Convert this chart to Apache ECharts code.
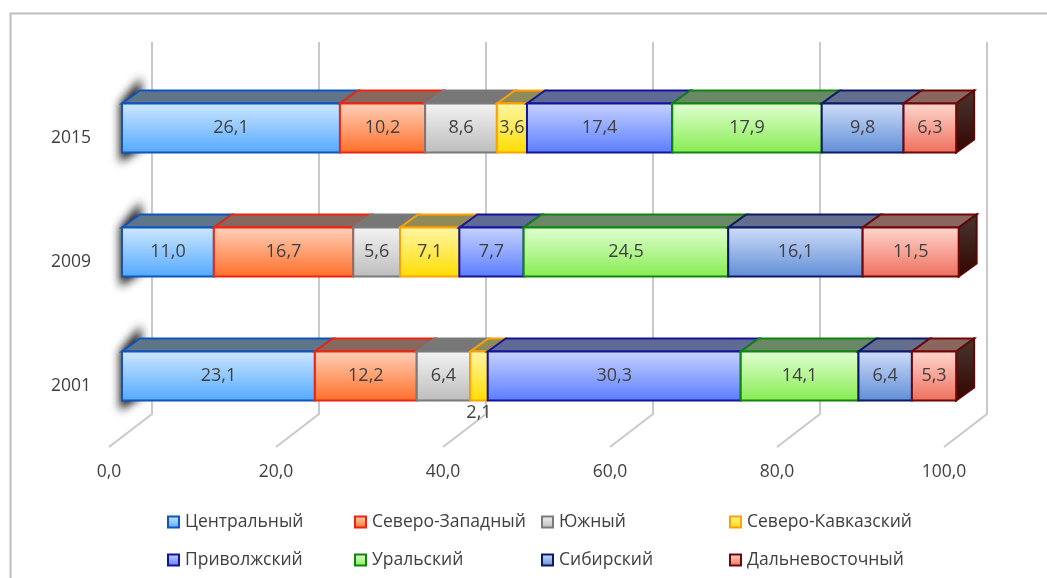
<!DOCTYPE html>
<html><head><meta charset="utf-8">
<script src="https://cdn.jsdelivr.net/npm/echarts@6/dist/echarts.min.js"></script>
<style>html,body{margin:0;padding:0;background:#fff}#c{width:1047px;height:578px}</style>
</head><body><div id="c"></div>
<script>
const years = ['2015', '2009', '2001'];
const ticks = [0, 20, 40, 60, 80, 100];
const regions = ['Центральный', 'Северо-Западный', 'Южный', 'Северо-Кавказский', 'Приволжский', 'Уральский', 'Сибирский', 'Дальневосточный'];
const central = [26.1, 11.0, 23.1];
const northWest = [10.2, 16.7, 12.2];
const south = [8.6, 5.6, 6.4];
const northCaucasus = [3.6, 7.1, 2.1];
const volga = [17.4, 7.7, 30.3];
const ural = [17.9, 24.5, 14.1];
const siberia = [9.8, 16.1, 6.4];
const farEast = [6.3, 11.5, 5.3];
const values = [central, northWest, south, northCaucasus, volga, ural, siberia, farEast];

const palette = [
  {a:'#cfe8ff', b:'#52a8ff', line:'#0f55bb', top:'#5f7589'},
  {a:'#ffd2bb', b:'#ff6e28', line:'#ee2410', top:'#86685f'},
  {a:'#f4f4f4', b:'#bcbcbc', line:'#7a7a7a', top:'#777777'},
  {a:'#fff6a8', b:'#ffdd00', line:'#ffa200', top:'#8f8a58'},
  {a:'#c8d3ff', b:'#5a7cff', line:'#14149a', top:'#5f6b95'},
  {a:'#e2ffd4', b:'#86ec50', line:'#0f850f', top:'#6a8768'},
  {a:'#d0def9', b:'#5f8dd6', line:'#0e1868', top:'#646f8d'},
  {a:'#ffd8cf', b:'#ee6e5c', line:'#6e0808', top:'#8a665f'}
];
const legendLeft = [167, 354, 541, 729];
const legendTop = [513, 551];
const txt = '#404040';
const font = '"Open Sans", "Noto Sans", sans-serif';
const DX = 18, DY = -13, H = 24.5;
const fmt = v => v.toFixed(1).replace('.', ',');
const grad = p => new echarts.graphic.LinearGradient(0, 0, 0, 1, [{offset:0,color:p.a},{offset:1,color:p.b}]);

function poly(points, fill, stroke) {
  return {type:'polygon', shape:{points}, style:{fill, stroke, lineWidth:2, lineJoin:'miter'}};
}

function segment(si) {
  return function (params, api) {
    const start = api.value(0), cat = api.value(1), v = api.value(2);
    const c0 = api.coord([start, cat]), c1 = api.coord([start + v, cat]);
    const x0 = c0[0], x1 = c1[0], yt = c0[1] - H, yb = c0[1] + H;
    const p = palette[si];
    const kids = [];
    if (si === 0) {
      const off = 3000;
      kids.push({type:'polygon',
        shape:{points:[[x0-2-off,yt],[x0+19-off,yt-26],[x0+19-off,yb-4],[x0-2-off,yb+10]]},
        style:{fill:'#000', shadowBlur:10, shadowColor:'rgba(0,0,0,0.95)', shadowOffsetX:off}});
    }
    kids.push(poly([[x0,yt],[x0+DX,yt+DY],[x1+DX,yt+DY],[x1,yt]], p.top, p.line));
    if (si === values.length - 1) {
      kids.push(poly([[x1,yt],[x1+DX,yt+DY],[x1+DX,yb+DY],[x1,yb]],
        new echarts.graphic.LinearGradient(0,0,0,1,[{offset:0,color:'#4a3630'},{offset:1,color:'#330500'}]), '#5a0808'));
    }
    kids.push({type:'rect', shape:{x:x0, y:yt, width:x1-x0, height:yb-yt}, style:{fill:grad(p), stroke:p.line, lineWidth:2}});
    const below = v < 3;
    kids.push({type:'text', z2:10, style:{
      text:fmt(v), x:(x0+x1)/2, y: below ? yb+12 : c0[1], align:'center', verticalAlign:'middle',
      fill:txt, font:'18px ' + font
    }});
    return {type:'group', children:kids};
  };
}

const cum = years.map(() => 0);
const barSeries = regions.map((name, si) => {
  const data = years.map((y, i) => { const d = [cum[i], i, values[si][i]]; cum[i] += values[si][i]; return d; });
  return {
    name, type:'custom', xAxisIndex:0, yAxisIndex:0, clip:false, data, z:5 + si,
    encode:{x:0, y:1},
    itemStyle:{color:palette[si].b},
    renderItem:segment(si)
  };
});

const wallSeries = {
  name:'grid', type:'custom', xAxisIndex:1, yAxisIndex:1, clip:false, z:1, silent:true,
  data:ticks.map(t => [t]), encode:{x:0},
  renderItem:function (params, api) {
    const f = api.coord([api.value(0), 0]), top = api.coord([api.value(0), 1]);
    const xb = f[0] + 43, yFloor = f[1] - 33;
    return {type:'polyline', shape:{points:[[xb, top[1]],[xb, yFloor],[f[0], f[1]]]},
      style:{fill:null, stroke:'#c9c9c9', lineWidth:2}};
  }
};

const legends = regions.map((name, i) => ({
  show:true, selectedMode:false, orient:'horizontal',
  left:legendLeft[i % 4], top:legendTop[Math.floor(i / 4)],
  itemWidth:11, itemHeight:11, itemGap:0, padding:0, icon:'rect',
  textStyle:{color:txt, fontSize:17.5, fontFamily:font, padding:[0,0,0,1]},
  data:[{name, itemStyle:{color:grad(palette[i]), borderColor:palette[i].line, borderWidth:2}}]
}));

const chart = echarts.init(document.getElementById('c'), null, {renderer:'canvas'});
chart.setOption({
  animation:false, backgroundColor:'#fff',
  grid:[
    {left:122, width:835, top:66, height:372},
    {left:109, width:835, top:42, height:405}
  ],
  xAxis:[
    {gridIndex:0, type:'value', min:0, max:100, show:false},
    {gridIndex:1, type:'value', min:0, max:100, interval:20, axisLine:{show:false}, axisTick:{show:false}, splitLine:{show:false},
      axisLabel:{margin:16, color:txt, fontSize:17.5, fontFamily:font, formatter:v => fmt(v)}}
  ],
  yAxis:[
    {gridIndex:0, type:'category', data:years, inverse:true, axisLine:{show:false}, axisTick:{show:false}, splitLine:{show:false},
      axisLabel:{margin:31, color:txt, fontSize:17.5, fontFamily:font, verticalAlign:'top', lineHeight:20}},
    {gridIndex:1, type:'value', min:0, max:1, show:false}
  ],
  legend:legends,
  graphic:[
    {type:'polyline', silent:true, shape:{points:[[10.5,578],[10.5,13.5],[1047,13.5]]}, style:{fill:null, stroke:'#bdbdbd', lineWidth:2}}
  ],
  series:[wallSeries].concat(barSeries)
});
</script></body></html>
